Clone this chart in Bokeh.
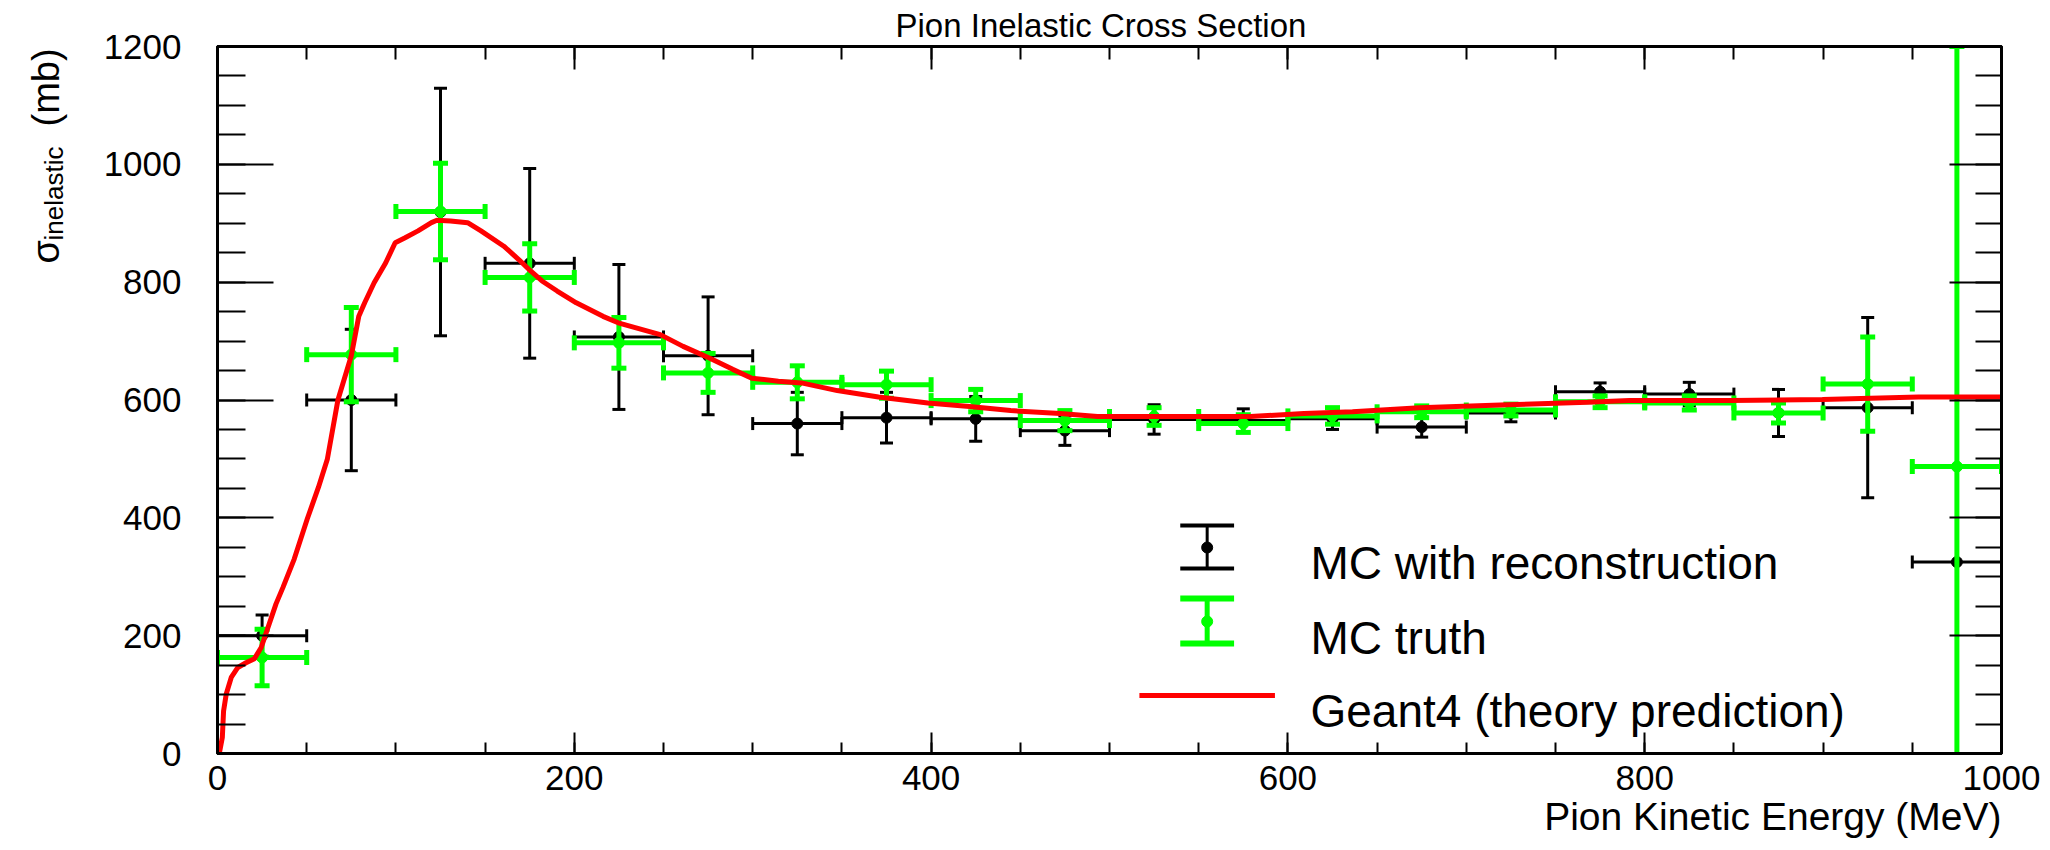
import numpy as np
from bokeh.plotting import figure
from bokeh.layouts import row
from bokeh.models import (Range1d, SingleIntervalTicker, LinearAxis, Label, Title,
                          ColumnDataSource)
from bokeh.core.properties import value
from bokeh.embed import file_html
from bokeh.resources import INLINE

# ---------------- data ----------------
bin_centers = [25, 75, 125, 175, 225, 275, 325, 375, 425, 475,
               525, 575, 625, 675, 725, 775, 825, 875, 925, 975]
bin_half_width = [25] * 20

reco_vals = [200, 600, 919, 832, 707, 675, 560, 570, 568, 548,
             567, 565, 568, 554, 578, 614, 610, 578, 587, 325]
reco_errs = [35, 120, 210, 161, 123, 100, 53, 43, 38, 25,
             25, 20, 18, 17, 15, 15, 20, 40, 153, 900]

truth_vals = [163, 677, 920, 808, 697, 646, 630, 626, 599, 565,
              572, 560, 573, 580, 583, 597, 595, 578, 627, 487]
truth_errs = [48, 80, 82, 57, 43, 33, 28, 23, 19, 17,
              15, 15, 14, 10, 10, 10, 12, 17, 80, 713]

geant4_energy = [0, 1, 2.7, 3.4, 4.9, 7.7, 11.4, 16, 20.7, 24.5, 27.3, 32.8, 36.7, 43,
                 50.3, 56.6, 61.6, 67.5, 75, 79.2, 82.5, 87.8, 94.3, 99.6, 104.9, 112.4,
                 119.9, 123, 130.6, 140.2, 147.7, 160.5, 169, 175.5, 181.9, 190.4, 201.1,
                 216.1, 224.6, 248.2, 261, 276, 288.8, 299.5, 314.4, 327.3, 347.4, 370.5,
                 398.2, 421.5, 444.6, 472.4, 493.2, 532.6, 579, 609, 636.2, 673.8, 723.2,
                 767.9, 791.4, 847.8, 899.6, 953.6, 1000]
geant4_xsec = [0, 0, 27, 72, 101, 129, 146, 154, 161, 180, 205, 254, 282, 330,
               398, 452, 500, 600, 675, 742, 765, 799, 833, 867, 875, 887,
               901, 905, 904, 901, 887, 861, 838, 819, 802, 785, 765,
               742, 731, 711, 691, 671, 652, 637, 632, 629, 616, 605,
               595, 589, 582, 577, 572, 572, 572, 577, 580, 587, 592,
               596, 599, 599, 601, 605, 605]

legend_labels = ["MC with reconstruction", "MC truth", "Geant4 (theory prediction)"]
title_text = "Pion Inelastic Cross Section"
x_title = "Pion Kinetic Energy (MeV)"
y_title_parts = ["σ", "inelastic", "(mb)"]

# ---------------- layout constants ----------------
W, H = 2050, 850
LW = 100                                   # width of the strip holding the y title
FL, FR, FT, FB = 211, 2001, 46, 753        # frame edges on the whole canvas
X0, X1, Y0, Y1 = 0, 1000, 0, 1200
PX_X = (FR - FL) / (X1 - X0)
PX_Y = (FB - FT) / (Y1 - Y0)
FONT = "Liberation Sans"


def sx(cx):  # canvas x -> frame screen x
    return cx - FL


def sy(cy):  # canvas y -> frame screen y (upwards)
    return FB - cy


def dx(cx):  # canvas x -> data x
    return X0 + (cx - FL) / PX_X


def dy(cy):  # canvas y -> data y
    return Y0 + (FB - cy) / PX_Y


# ---------------- y-title strip (its frame is aligned with the main frame) ----------------
lf = figure(width=LW, height=H, x_range=Range1d(0, LW), y_range=Range1d(H - FB, H - FT),
            title=None, output_backend="svg", toolbar_location=None,
            x_axis_location=None, y_axis_location=None,
            min_border=0, min_border_left=0, min_border_right=0,
            min_border_top=0, min_border_bottom=0)
lf.grid.visible = False
lf.outline_line_color = None
lf.background_fill_color = "white"
lf.border_fill_color = "white"
for txt, (cx, cy), fs in zip(y_title_parts, [(45, 263), (53, 240), (45, 126)],
                             ["38px", "26px", "38px"]):
    lf.text(x=[cx], y=[H - cy], text=[txt], angle=np.pi / 2,
            text_font=value(FONT), text_font_size=fs, text_color="black",
            text_align="left", text_baseline="alphabetic")

# ---------------- main plot ----------------
p = figure(width=W - LW, height=H, x_range=Range1d(X0, X1), y_range=Range1d(Y0, Y1),
           output_backend="svg", toolbar_location=None,
           min_border_left=FL - LW, min_border_right=W - FR,
           min_border_top=FT, min_border_bottom=H - FB)
p.grid.visible = False
p.outline_line_color = "black"
p.outline_line_width = 3
p.background_fill_color = "white"
p.border_fill_color = "white"

p.title.text = title_text
p.title.align = "left"
p.title.offset = 678
p.title.text_font = FONT
p.title.text_font_size = "33px"
p.title.text_font_style = "normal"
p.title.text_color = "black"
p.title.standoff = 6

xt = SingleIntervalTicker(interval=200, num_minor_ticks=4)
yt = SingleIntervalTicker(interval=200, num_minor_ticks=4)

for ax in p.xaxis:
    ax.ticker = xt
    ax.axis_line_width = 3
    ax.major_tick_in = 21
    ax.major_tick_out = 0
    ax.minor_tick_in = 11
    ax.minor_tick_out = 0
    ax.major_tick_line_width = 2
    ax.minor_tick_line_width = 2
    ax.major_label_text_font = FONT
    ax.major_label_text_font_size = "35px"
    ax.major_label_text_color = "black"
    ax.major_label_standoff = 12

for ax in p.yaxis:
    ax.ticker = yt
    ax.axis_line_width = 3
    ax.major_tick_in = 56
    ax.major_tick_out = 0
    ax.minor_tick_in = 28
    ax.minor_tick_out = 0
    ax.major_tick_line_width = 2
    ax.minor_tick_line_width = 2
    ax.major_label_text_font = FONT
    ax.major_label_text_font_size = "35px"
    ax.major_label_text_color = "black"
    ax.major_label_standoff = 36

top_ax = LinearAxis(ticker=xt, axis_line_width=3, major_tick_in=23, major_tick_out=0,
                    minor_tick_in=13, minor_tick_out=0, major_tick_line_width=2,
                    minor_tick_line_width=2, major_label_text_font_size="1px",
                    major_label_text_alpha=0, major_label_standoff=0)
right_ax = LinearAxis(ticker=yt, axis_line_width=3, major_tick_in=52, major_tick_out=0,
                      minor_tick_in=26, minor_tick_out=0, major_tick_line_width=2,
                      minor_tick_line_width=2, major_label_text_font_size="1px",
                      major_label_text_alpha=0, major_label_standoff=0)
p.add_layout(top_ax, "above")
p.add_layout(right_ax, "right")

p.add_layout(Title(text=x_title, align="right", text_font=FONT, text_font_size="39px",
                   text_font_style="normal", text_color="black", standoff=0), "below")


def draw_series(vals, errs, color, lw, cap, msize):
    src = ColumnDataSource(dict(
        x=bin_centers, y=vals,
        lo=[v - e for v, e in zip(vals, errs)],
        hi=[v + e for v, e in zip(vals, errs)],
        xl=[c - h for c, h in zip(bin_centers, bin_half_width)],
        xr=[c + h for c, h in zip(bin_centers, bin_half_width)],
    ))
    p.segment(x0="x", y0="lo", x1="x", y1="hi", source=src, line_color=color, line_width=lw)
    p.segment(x0="xl", y0="y", x1="xr", y1="y", source=src, line_color=color, line_width=lw)
    for col in ("lo", "hi"):
        p.scatter(x="x", y=col, source=src, marker="dash", size=cap,
                  line_color=color, line_width=lw)
    for col in ("xl", "xr"):
        p.scatter(x=col, y="y", source=src, marker="dash", angle=np.pi / 2, size=cap,
                  line_color=color, line_width=lw)
    p.scatter(x="x", y="y", source=src, marker="circle", size=msize,
              fill_color=color, line_color=color)


draw_series(reco_vals, reco_errs, "black", 3, 13, 11)
draw_series(truth_vals, truth_errs, "#00ff00", 5, 15, 11)
p.line(geant4_energy, geant4_xsec, line_color="#ff0000", line_width=5)

# ---------------- legend (drawn by hand, no box) ----------------
icon_cx = 1204
for (ytop, ybot, ydot, color, lw) in [(525, 568, 547, "black", 3),
                                      (598, 643, 621, "#00ff00", 5)]:
    p.segment(x0=[dx(icon_cx)], y0=[dy(ytop)], x1=[dx(icon_cx)], y1=[dy(ybot)],
              line_color=color, line_width=lw)
    p.segment(x0=[dx(icon_cx - 27), dx(icon_cx - 27)], y0=[dy(ytop), dy(ybot)],
              x1=[dx(icon_cx + 27), dx(icon_cx + 27)], y1=[dy(ytop), dy(ybot)],
              line_color=color, line_width=lw + 1)
    p.scatter(x=[dx(icon_cx)], y=[dy(ydot)], marker="circle", size=11,
              fill_color=color, line_color=color)
p.segment(x0=[dx(1136)], y0=[dy(695)], x1=[dx(1272)], y1=[dy(695)],
          line_color="#ff0000", line_width=5)

for txt, base in zip(legend_labels, [562, 637, 710]):
    p.add_layout(Label(x=sx(1304), y=sy(base), x_units="screen", y_units="screen",
                       text=txt, text_font=FONT, text_font_size="46px",
                       text_color="black", text_align="left",
                       text_baseline="alphabetic"))

layout = row(lf, p, spacing=0)
open("out.html", "w").write(file_html(layout, INLINE))
